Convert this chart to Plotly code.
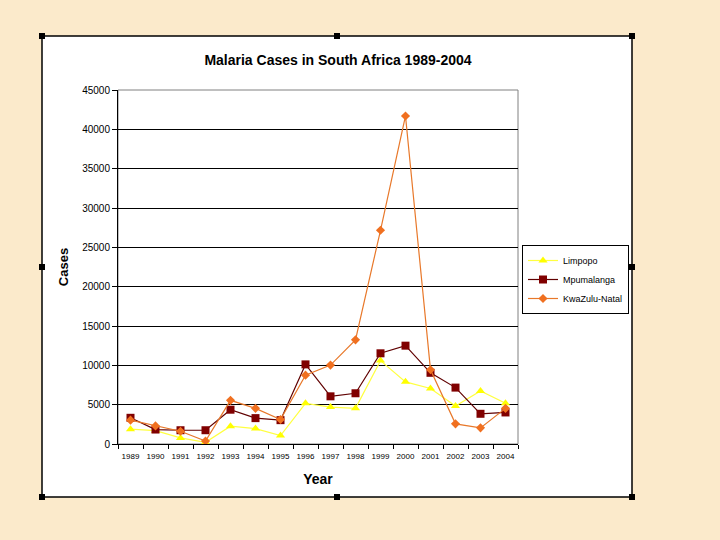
import plotly.graph_objects as go

years = [str(y) for y in range(1989, 2005)]
limpopo = [1880, 1700, 770, 210, 2260, 1960, 1070, 5170, 4700, 4530, 10600, 7900, 7050, 4830, 6750, 5170]
mpumalanga = [3330, 1840, 1750, 1750, 4360, 3290, 3030, 10120, 6060, 6450, 11530, 12500, 9050, 7170, 3840, 4010]
kwazulu_natal = [3030, 2300, 1620, 380, 5550, 4530, 3120, 8750, 10030, 13240, 27170, 41700, 9440, 2560, 2050, 4530]
y_ticks = list(range(0, 45001, 5000))

W, H = 720, 540
L, R, T, B = 118, 518, 90, 444
BG = "#FBEACB"


def px(x):
    return (x - L) / (R - L)


def py(y):
    return (B - y) / (B - T)


fig = go.Figure()
fig.add_trace(go.Scatter(x=years, y=limpopo, name="Limpopo", mode="lines+markers",
                         line=dict(color="#FFFF40", width=1.2),
                         marker=dict(symbol="triangle-up", size=8, color="#FFFF00")))
fig.add_trace(go.Scatter(x=years, y=mpumalanga, name="Mpumalanga", mode="lines+markers",
                         line=dict(color="#600000", width=1.2),
                         marker=dict(symbol="square", size=8, color="#800000")))
fig.add_trace(go.Scatter(x=years, y=kwazulu_natal, name="KwaZulu-Natal", mode="lines+markers",
                         line=dict(color="#E8782A", width=1.2),
                         marker=dict(symbol="diamond", size=7, color="#F07020")))

shapes = [
    # white chart area
    dict(type="rect", xref="paper", yref="paper", x0=px(42), x1=px(632), y0=py(497), y1=py(36),
         fillcolor="white", line=dict(color="black", width=1.5), layer="below"),
    # grey plot border
    dict(type="rect", xref="paper", yref="paper", x0=0, x1=1, y0=0, y1=1,
         line=dict(color="#808080", width=1), layer="below"),
]
# selection handles
for hx, hy in [(42, 36), (337, 36), (632, 36), (42, 267), (632, 267), (42, 497), (337, 497), (632, 497)]:
    shapes.append(dict(type="rect", xref="paper", yref="paper",
                       x0=px(hx - 3), x1=px(hx + 3), y0=py(hy + 3), y1=py(hy - 3),
                       fillcolor="black", line=dict(width=0), layer="above"))

fig.update_layout(
    width=W, height=H,
    margin=dict(l=L, r=W - R, t=T, b=H - B),
    paper_bgcolor=BG,
    plot_bgcolor="white",
    font=dict(family="Liberation Sans, Arial, sans-serif", color="black"),
    title=dict(text="<b>Malaria Cases in South Africa 1989-2004</b>", x=px(338), xref="paper",
               xanchor="center", y=1 - 60 / H, yanchor="middle", font=dict(size=14)),
    shapes=shapes,
    showlegend=True,
    legend=dict(x=px(522), y=py(245), xanchor="left", yanchor="top",
                bgcolor="white", bordercolor="black", borderwidth=1,
                font=dict(size=9), itemwidth=30),
)
fig.update_xaxes(
    type="category", range=[-0.5, 15.5],
    title=dict(text="<b>Year</b>", font=dict(size=14), standoff=14),
    showline=True, linecolor="black", linewidth=1, showgrid=False,
    ticks="outside", ticklen=4, tickcolor="black", tickson="boundaries",
    tickfont=dict(size=8), tickangle=0, ticklabelstandoff=4, zeroline=False,
)
fig.update_yaxes(
    range=[0, 45000], tickvals=y_ticks, ticktext=[str(v) for v in y_ticks],
    title=dict(text="<b>Cases</b>", font=dict(size=13), standoff=10),
    showline=True, linecolor="black", linewidth=1,
    showgrid=True, gridcolor="black", gridwidth=1,
    ticks="outside", ticklen=5, tickcolor="black",
    tickfont=dict(size=10), zeroline=False,
)

fig.write_html("out.html", config={"displayModeBar": False}, post_script=(
    "document.body.style.margin='0';"
    "document.body.style.overflow='hidden';"
    "document.body.style.background='" + BG + "';"
))
